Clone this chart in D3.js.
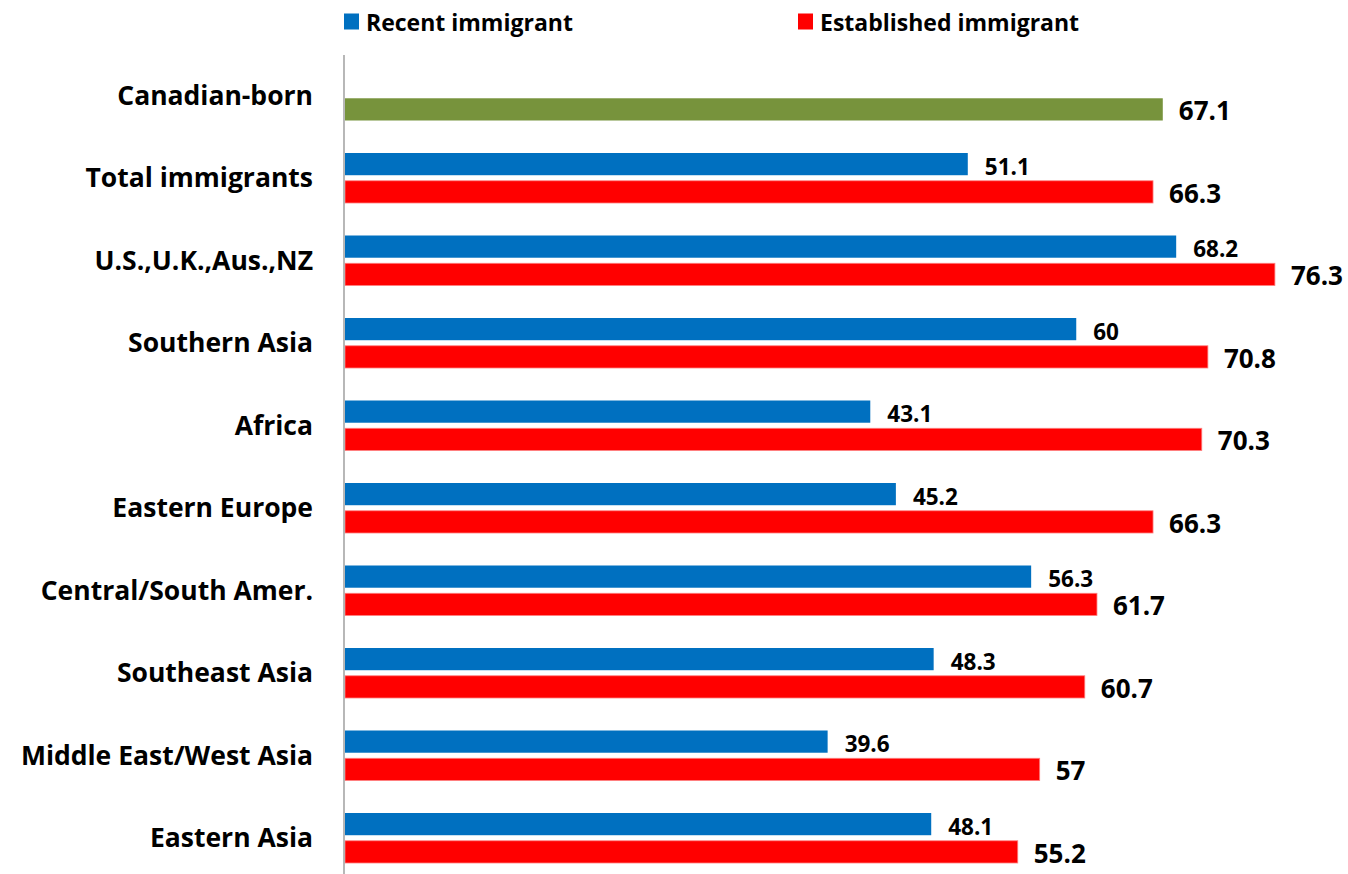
<!DOCTYPE html>
<html>
<head>
<meta charset="utf-8">
<script src="https://cdn.jsdelivr.net/npm/d3@7"></script>
<style>
  html, body { margin: 0; padding: 0; background: #ffffff; }
  svg { display: block; }
  text { font-family: "Open Sans", "Lato", sans-serif; font-weight: 700; fill: #000; }
</style>
</head>
<body>
<svg id="chart" width="1348" height="874"></svg>
<script>
// Employment rate by place of birth (%)
const categories = [
  "Canadian-born",
  "Total immigrants",
  "U.S.,U.K.,Aus.,NZ",
  "Southern Asia",
  "Africa",
  "Eastern Europe",
  "Central/South Amer.",
  "Southeast Asia",
  "Middle East/West Asia",
  "Eastern Asia"
];
const recentValues      = [null, 51.1, 68.2, 60, 43.1, 45.2, 56.3, 48.3, 39.6, 48.1];
const establishedValues = [67.1, 66.3, 76.3, 70.8, 70.3, 66.3, 61.7, 60.7, 57, 55.2];
const seriesNames = ["Recent immigrant", "Established immigrant"];

const colors = {
  recent: "#0070C0",
  established: "#FF0000",
  canadian: "#77933C",
  axis: "#A6A6A6"
};

const svg = d3.select("#chart");

const x = d3.scaleLinear().domain([0, 80]).range([345, 1320]);
const y = d3.scaleBand().domain(categories).range([55, 880]).paddingInner(0).paddingOuter(0);
const sub = d3.scaleBand().domain(["recent", "established"]).range([15.5, 65.5]).paddingInner(0.2).paddingOuter(0);

const rows = categories.map((c, i) => ({
  cat: c,
  recent: recentValues[i],
  established: establishedValues[i]
}));

// Bars and value labels
const g = svg.append("g");
rows.forEach((r, i) => {
  if (r.recent != null) {
    g.append("rect")
      .attr("x", x(0))
      .attr("y", y(r.cat) + sub("recent"))
      .attr("width", x(r.recent) - x(0))
      .attr("height", sub.bandwidth())
      .attr("fill", colors.recent);
    g.append("text")
      .attr("x", x(r.recent) + 17)
      .attr("y", y(r.cat) + sub("recent") + sub.bandwidth() / 2 + 2)
      .attr("dominant-baseline", "central")
      .style("font-size", "22.5px")
      .text(r.recent);
  }
  const isCanadian = i === 0;
  g.append("rect")
    .attr("x", x(0))
    .attr("y", y(r.cat) + sub("established"))
    .attr("width", x(r.established) - x(0))
    .attr("height", sub.bandwidth())
    .attr("fill", isCanadian ? colors.canadian : colors.established)
    .attr("stroke", isCanadian ? "none" : "#FF7F7F")
    .attr("stroke-width", 0.8);
  g.append("text")
    .attr("x", x(r.established) + 16)
    .attr("y", y(r.cat) + sub("established") + sub.bandwidth() / 2 + 1)
    .attr("dominant-baseline", "central")
    .style("font-size", "26px")
    .text(r.established);
});

// Category axis
const yAxis = d3.axisLeft(y).tickSize(0).tickPadding(31);
const ay = svg.append("g").attr("transform", `translate(${x(0) - 1},0)`).call(yAxis);
ay.select(".domain").attr("stroke", colors.axis).attr("stroke-width", 1.6).attr("d", `M0,55V874`);
ay.selectAll(".tick text")
  .style("font-family", "'Open Sans', Lato, sans-serif")
  .style("font-weight", 700)
  .style("font-size", "26.5px")
  .attr("fill", "#000");

// Legend
const legendItems = [
  { name: seriesNames[0], color: colors.recent, x: 344 },
  { name: seriesNames[1], color: colors.established, x: 798 }
];
const lg = svg.append("g");
legendItems.forEach(d => {
  lg.append("rect").attr("x", d.x).attr("y", 13.5).attr("width", 15).attr("height", 16).attr("fill", d.color);
  lg.append("text")
    .attr("x", d.x + 22)
    .attr("y", 21.5)
    .attr("dominant-baseline", "central")
    .style("font-size", "23px")
    .text(d.name);
});
</script>
</body>
</html>
